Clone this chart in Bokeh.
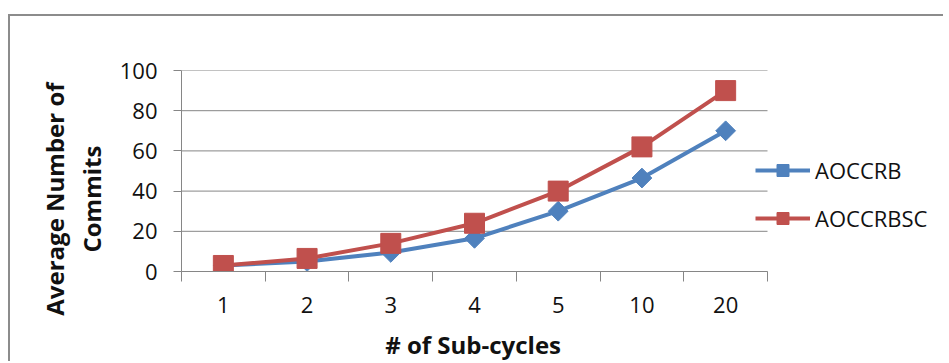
import math
from bokeh.plotting import figure
from bokeh.models import Range1d, FixedTicker
from bokeh.embed import file_html
from bokeh.resources import INLINE

# ---- data ----
subcycles = ["1", "2", "3", "4", "5", "10", "20"]
aoccrb = [3, 5, 9.5, 16.5, 30, 46.5, 70]
aoccrbsc = [3, 6.5, 14, 24, 40, 62, 90]
y_ticks = [0, 20, 40, 60, 80, 100]
x_title = "# of Sub-cycles"
y_title_lines = ["Average Number of", "Commits"]

BLUE = "#4F81BD"
RED = "#C0504D"
GRID = "#868686"
FONT = "Open Sans"
TXT = "#111111"
NBSP = "\u00a0"

# ---- layout constants (pixels) ----
W, H = 935, 347
LEFT, TOP = 171, 54
PLOT_W, PLOT_H = 586, 201

n = len(subcycles)
unit = PLOT_W / n
pos = [i + 1 for i in range(n)]
boundaries = [i + 0.5 for i in range(n + 1)]
x_end = 0.5 + (W - LEFT) / unit

p = figure(width=W, height=H, output_backend="svg", toolbar_location=None,
           x_range=Range1d(0.5, x_end), y_range=Range1d(0, 100),
           min_border_left=LEFT, min_border_right=0, min_border_top=TOP,
           min_border_bottom=H - TOP - PLOT_H)
p.styles = {"margin-left": "8px", "margin-top": "14px",
            "border-top": "2px solid #8C8C8C", "border-left": "2px solid #8C8C8C"}
p.outline_line_color = None
p.background_fill_color = "white"
p.border_fill_color = "white"

# horizontal gridlines, limited to the category span
p.segment(x0=[boundaries[0]] * len(y_ticks), x1=[boundaries[-1]] * len(y_ticks),
          y0=y_ticks, y1=y_ticks, line_color=GRID, line_width=1)

# lines and markers
p.line(pos, aoccrb, line_color=BLUE, line_width=4, line_join="round", legend_label="AOCCRB")
p.scatter(pos, aoccrb, marker="square", angle=math.pi / 4, size=14,
          fill_color=BLUE, line_color=BLUE, legend_label="AOCCRB")
p.line(pos, aoccrbsc, line_color=RED, line_width=4, line_join="round", legend_label="AOCCRBSC")
p.scatter(pos, aoccrbsc, marker="square", size=20,
          fill_color=RED, line_color=RED, legend_label="AOCCRBSC")

# x axis
xa = p.xaxis[0]
xa.bounds = (boundaries[0], boundaries[-1])
xa.ticker = FixedTicker(ticks=pos, minor_ticks=boundaries)
xa.major_label_overrides = {k: v for k, v in zip(pos, subcycles)}
xa.major_tick_out = 0
xa.major_tick_in = 0
xa.minor_tick_out = 10
xa.minor_tick_in = 0
xa.minor_tick_line_color = GRID
xa.axis_line_color = GRID
xa.major_label_text_font = FONT
xa.major_label_text_font_size = "22px"
xa.major_label_text_color = TXT
xa.major_label_standoff = 15
# trailing no-break spaces shift the centred title over the category span
xa.axis_label = x_title + NBSP * 29
xa.axis_label_text_font = FONT
xa.axis_label_text_font_style = "bold"
xa.axis_label_text_font_size = "24px"
xa.axis_label_text_color = TXT
xa.axis_label_standoff = 12

# y axis
ya = p.yaxis[0]
ya.ticker = FixedTicker(ticks=y_ticks)
ya.major_tick_out = 8
ya.major_tick_in = 0
ya.minor_tick_line_color = None
ya.major_tick_line_color = GRID
ya.axis_line_color = GRID
ya.major_label_text_font = FONT
ya.major_label_text_font_size = "22px"
ya.major_label_text_color = TXT
ya.major_label_standoff = 16
ya.axis_label = "\n".join(line + NBSP * 9 for line in y_title_lines)
ya.axis_label_text_font = FONT
ya.axis_label_text_font_style = "bold"
ya.axis_label_text_font_size = "24px"
ya.axis_label_text_color = TXT
ya.axis_label_text_line_height = 1.1
ya.axis_label_standoff = 9

p.xgrid.grid_line_color = None
p.ygrid.grid_line_color = None

leg = p.legend[0]
leg.location = (574, 38)
leg.padding = 0
leg.margin = 0
leg.border_line_alpha = 0
leg.background_fill_alpha = 0
leg.glyph_width = 55
leg.glyph_height = 30
leg.label_height = 30
leg.spacing = 18
leg.label_standoff = 5
leg.label_text_font = FONT
leg.label_text_font_size = "22px"
leg.label_text_color = TXT

open("out.html", "w").write(file_html(p, INLINE))
